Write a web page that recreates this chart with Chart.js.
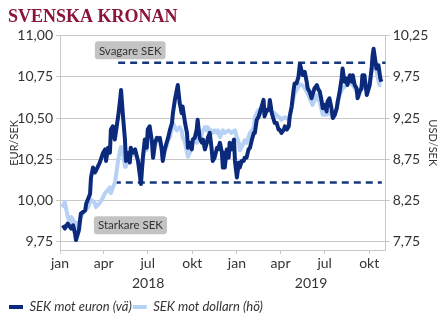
<!DOCTYPE html>
<html>
<head>
<meta charset="utf-8">
<script src="https://cdn.jsdelivr.net/npm/chart.js@4.4.1/dist/chart.umd.min.js"></script>
<style>
    body { margin: 0; background: #ffffff; }
    #wrap { width: 445px; height: 327px; }
</style>
</head>
<body>
<div id="wrap"><canvas id="kronaChart" width="445" height="327"></canvas></div>
<script>
// Dagar sedan 1 jan 2018 för tick-etiketter
const monthDays = [0, 90, 181, 273, 365, 455, 546, 638];
const monthLabels = ['jan', 'apr', 'jul', 'okt', 'jan', 'apr', 'jul', 'okt'];
const yearDays = [182, 518];
const yearLabels = ['2018', '2019'];
const eurTicks = [9.75, 10.00, 10.25, 10.50, 10.75, 11.00];
const usdTicks = [7.75, 8.25, 8.75, 9.25, 9.75, 10.25];

// EUR/SEK (dag sedan 1 jan 2018, kurs)
const eurDays = [
    6, 10, 16, 23, 27, 31, 33, 39, 43, 52, 54, 62, 64, 68, 72, 74, 82, 89, 93, 95,
    99, 103, 105, 109, 113, 115, 120, 124, 126, 130, 134, 136, 140, 144, 146, 150, 155, 161, 167, 171,
    175, 179, 181, 185, 190, 192, 196, 200, 202, 206, 210, 212, 216, 220, 223, 227, 231, 233, 237, 241,
    243, 247, 251, 253, 258, 262, 264, 268, 272, 274, 278, 282, 284, 288, 293, 295, 299, 303, 305, 309,
    313, 315, 319, 324, 326, 330, 334, 336, 338, 340, 344, 348, 350, 354, 359, 361, 365, 369, 371, 375,
    379, 381, 385, 389, 392, 396, 400, 402, 406, 410, 412, 416, 420, 422, 427, 431, 433, 437, 441, 443,
    447, 451, 453, 457, 462, 464, 468, 472, 474, 478, 482, 484, 488, 492, 495, 499, 501, 505, 509, 511,
    515, 519, 521, 525, 530, 532, 536, 540, 542, 546, 550, 552, 556, 560, 563, 567, 571, 573, 577, 581,
    583, 587, 591, 593, 598, 602, 604, 608, 612, 614, 618, 622, 624, 628, 633, 635, 639, 643, 645, 647,
    651, 653, 657, 661, 663
];
const eurSek = [
    9.85, 9.83, 9.86, 9.83, 9.85, 9.80, 9.76, 9.82, 9.92, 9.94, 9.98, 10.04, 10.14, 10.20, 10.17, 10.18, 10.23, 10.29, 10.31, 10.24,
    10.32, 10.29, 10.43, 10.45, 10.37, 10.41, 10.51, 10.61, 10.67, 10.51, 10.37, 10.24, 10.29, 10.23, 10.32, 10.29, 10.31, 10.24, 10.10, 10.26,
    10.37, 10.32, 10.43, 10.45, 10.35, 10.26, 10.35, 10.38, 10.37, 10.38, 10.31, 10.24, 10.31, 10.35, 10.38, 10.43, 10.47, 10.53, 10.61, 10.67,
    10.70, 10.59, 10.53, 10.57, 10.47, 10.41, 10.32, 10.35, 10.31, 10.37, 10.38, 10.43, 10.49, 10.38, 10.35, 10.37, 10.31, 10.35, 10.38, 10.41,
    10.31, 10.24, 10.26, 10.32, 10.31, 10.35, 10.29, 10.20, 10.29, 10.20, 10.31, 10.26, 10.35, 10.31, 10.37, 10.24, 10.14, 10.23, 10.20, 10.24,
    10.24, 10.26, 10.26, 10.31, 10.32, 10.37, 10.41, 10.41, 10.49, 10.51, 10.53, 10.57, 10.61, 10.51, 10.55, 10.55, 10.61, 10.53, 10.49, 10.47,
    10.47, 10.43, 10.43, 10.41, 10.43, 10.45, 10.43, 10.45, 10.51, 10.57, 10.67, 10.71, 10.71, 10.75, 10.83, 10.78, 10.76, 10.78, 10.72, 10.68,
    10.66, 10.62, 10.64, 10.68, 10.70, 10.68, 10.66, 10.60, 10.56, 10.58, 10.54, 10.60, 10.62, 10.56, 10.50, 10.52, 10.56, 10.60, 10.66, 10.74,
    10.80, 10.72, 10.74, 10.70, 10.76, 10.72, 10.76, 10.70, 10.68, 10.62, 10.66, 10.68, 10.76, 10.76, 10.64, 10.66, 10.70, 10.80, 10.88, 10.92,
    10.84, 10.80, 10.82, 10.74, 10.72
];

// USD/SEK (dag sedan 1 jan 2018, kurs)
const usdDays = [
    4, 10, 12, 16, 21, 23, 31, 33, 37, 43, 52, 58, 64, 72, 74, 82, 89, 93, 99, 103,
    105, 109, 113, 115, 120, 124, 126, 130, 134, 136, 140, 144, 146, 150, 155, 161, 167, 171, 175, 179,
    181, 185, 190, 192, 196, 200, 206, 210, 212, 216, 220, 223, 227, 231, 233, 237, 241, 247, 251, 253,
    258, 262, 264, 268, 272, 274, 278, 282, 288, 295, 299, 303, 305, 309, 313, 315, 319, 324, 326, 330,
    334, 336, 340, 348, 354, 361, 365, 369, 371, 375, 379, 381, 385, 389, 392, 396, 400, 402, 406, 410,
    412, 416, 422, 431, 433, 437, 443, 451, 453, 457, 464, 472, 474, 478, 482, 484, 488, 492, 495, 499,
    503, 509, 515, 521, 530, 536, 542, 550, 556, 563, 567, 571, 577, 583, 591, 598, 604, 612, 618, 624,
    633, 639, 645, 649, 653, 659, 663
];
const usdSek = [
    8.17, 8.23, 8.17, 8.05, 7.98, 8.05, 7.98, 7.89, 7.93, 8.05, 8.13, 8.17, 8.26, 8.22, 8.17, 8.22, 8.29, 8.34, 8.38, 8.41,
    8.34, 8.41, 8.46, 8.53, 8.74, 8.86, 8.90, 8.83, 8.66, 8.66, 8.78, 8.74, 8.83, 8.80, 8.84, 8.72, 8.62, 8.74, 8.92, 8.86,
    9.04, 9.08, 8.91, 8.77, 8.91, 8.98, 8.98, 8.84, 8.74, 8.84, 8.91, 8.98, 9.02, 9.14, 9.19, 9.14, 9.10, 9.14, 9.10, 9.02,
    8.95, 8.83, 8.78, 8.83, 8.90, 8.98, 9.02, 8.95, 8.98, 9.10, 9.14, 9.10, 9.14, 9.07, 9.10, 9.07, 9.10, 9.07, 9.10, 9.02,
    9.07, 9.10, 9.07, 9.10, 9.07, 9.10, 9.02, 8.95, 8.86, 8.90, 8.95, 8.98, 8.95, 9.02, 9.07, 9.10, 9.14, 9.26, 9.31, 9.35,
    9.31, 9.31, 9.31, 9.35, 9.35, 9.31, 9.31, 9.26, 9.26, 9.23, 9.26, 9.23, 9.26, 9.38, 9.50, 9.55, 9.59, 9.63, 9.66, 9.65,
    9.63, 9.57, 9.49, 9.41, 9.53, 9.44, 9.29, 9.29, 9.32, 9.25, 9.29, 9.37, 9.53, 9.61, 9.65, 9.69, 9.65, 9.57, 9.53, 9.69,
    9.57, 9.69, 9.89, 9.93, 9.81, 9.65, 9.65
];

// Nivåer för streckade linjer (EUR/SEK)
const weakLevel = 10.835;
const weakFrom = 120;
const strongLevel = 10.11;
const strongFrom = 111;
const axisEnd = 672;

const notes = [
    { text: 'Svagare SEK', day: 72, eur: 10.965 },
    { text: 'Starkare SEK', day: 70, eur: 9.905 }
];

const fontFamily = 'Lato, "Open Sans", sans-serif';
const gridColor = '#c8c8c8';
const textColor = '#333333';

function fmt(v) {
    return v.toFixed(2).replace('.', ',');
}

// Rutor med text (Svagare / Starkare SEK)
const notePlugin = {
    id: 'notes',
    afterDatasetsDraw(chart) {
        const { ctx, scales } = chart;
        ctx.save();
        ctx.font = '11.5px ' + fontFamily;
        notes.forEach(n => {
            const x = scales.x.getPixelForValue(n.day);
            const y = scales.y.getPixelForValue(n.eur);
            const w = ctx.measureText(n.text).width + 8;
            const h = 18;
            ctx.fillStyle = '#c3c3c3';
            ctx.beginPath();
            ctx.roundRect(x, y, w, h, 3);
            ctx.fill();
            ctx.fillStyle = textColor;
            ctx.textBaseline = 'middle';
            ctx.fillText(n.text, x + 4, y + h / 2 + 0.5);
        });
        ctx.restore();
    }
};

const ctx = document.getElementById('kronaChart').getContext('2d');
const kronaChart = new Chart(ctx, {
    type: 'line',
    data: {
        datasets: [
            {
                label: 'SEK mot euron (vä)',
                data: eurDays.map((d, i) => ({ x: d, y: eurSek[i] })),
                borderColor: '#0b2a7c',
                backgroundColor: '#0b2a7c',
                borderWidth: 4,
                pointRadius: 0,
                borderJoinStyle: 'round',
                yAxisID: 'y'
            },
            {
                label: 'SEK mot dollarn (hö)',
                data: usdDays.map((d, i) => ({ x: d, y: usdSek[i] })),
                borderColor: '#b6d1f5',
                backgroundColor: '#b6d1f5',
                borderWidth: 4,
                pointRadius: 0,
                borderJoinStyle: 'round',
                yAxisID: 'y1'
            },
            {
                label: 'weak',
                data: [{ x: weakFrom, y: weakLevel }, { x: axisEnd, y: weakLevel }],
                borderColor: '#17397a',
                borderWidth: 2.5,
                borderDash: [7, 5],
                pointRadius: 0,
                yAxisID: 'y'
            },
            {
                label: 'strong',
                data: [{ x: strongFrom, y: strongLevel }, { x: axisEnd - 8, y: strongLevel }],
                borderColor: '#17397a',
                borderWidth: 2.5,
                borderDash: [7, 5],
                pointRadius: 0,
                yAxisID: 'y'
            }
        ]
    },
    options: {
        responsive: false,
        animation: false,
        layout: { padding: { left: 8, right: 0, top: 0, bottom: 3.5 } },
        plugins: {
            title: {
                display: true,
                text: 'SVENSKA KRONAN',
                align: 'start',
                color: '#8b1538',
                font: { family: '"Liberation Serif", serif', size: 18, weight: 'bold' },
                padding: { top: 6.5, bottom: 7.5 }
            },
            legend: {
                position: 'bottom',
                align: 'start',
                labels: {
                    color: textColor,
                    font: { family: fontFamily, size: 13, style: 'italic' },
                    boxWidth: 14,
                    boxHeight: 4,
                    padding: 1,
                    filter: item => item.datasetIndex < 2,
                    generateLabels: chart => Chart.defaults.plugins.legend.labels.generateLabels(chart)
                        .map(l => ({ ...l, lineWidth: 0 }))
                }
            },
            tooltip: { enabled: false }
        },
        scales: {
            x: {
                type: 'linear',
                position: 'bottom',
                min: 0,
                max: axisEnd,
                afterBuildTicks: s => { s.ticks = monthDays.map(v => ({ value: v })); },
                afterFit: s => { s.height = 24; },
                ticks: {
                    autoSkip: false,
                    maxRotation: 0,
                    color: textColor,
                    font: { family: fontFamily, size: 14 },
                    padding: 1,
                    callback: (v, i) => monthLabels[i]
                },
                grid: { drawOnChartArea: false, color: gridColor, tickLength: 4 },
                border: { color: gridColor }
            },
            x2: {
                type: 'linear',
                position: 'bottom',
                min: 0,
                max: axisEnd,
                afterBuildTicks: s => { s.ticks = yearDays.map(v => ({ value: v })); },
                afterFit: s => { s.height = 25.5; },
                ticks: {
                    autoSkip: false,
                    maxRotation: 0,
                    color: textColor,
                    font: { family: fontFamily, size: 14 },
                    padding: 1,
                    callback: (v, i) => yearLabels[i]
                },
                grid: { display: false, drawTicks: false },
                border: { display: false }
            },
            y: {
                position: 'left',
                min: 9.70,
                max: 11.00,
                afterBuildTicks: s => { s.ticks = eurTicks.map(v => ({ value: v })); },
                afterFit: s => { s.width = 52; },
                title: {
                    display: true,
                    text: 'EUR/SEK',
                    color: textColor,
                    font: { family: fontFamily, size: 11 },
                    padding: { top: 0, bottom: 0 }
                },
                ticks: {
                    color: textColor,
                    font: { family: fontFamily, size: 14 },
                    padding: 3,
                    callback: v => fmt(v)
                },
                grid: { color: gridColor, tickLength: 4 },
                border: { color: gridColor }
            },
            y1: {
                position: 'right',
                min: 7.65,
                max: 10.25,
                afterBuildTicks: s => { s.ticks = usdTicks.map(v => ({ value: v })); },
                afterFit: s => { s.width = 59.3; },
                title: {
                    display: true,
                    text: 'USD/SEK',
                    color: textColor,
                    font: { family: fontFamily, size: 11 },
                    padding: { top: 6, bottom: 0 }
                },
                ticks: {
                    color: textColor,
                    font: { family: fontFamily, size: 14 },
                    padding: 3,
                    callback: v => fmt(v)
                },
                grid: { drawOnChartArea: false, color: gridColor, tickLength: 4 },
                border: { color: gridColor }
            }
        }
    },
    plugins: [notePlugin]
});
</script>
</body>
</html>
